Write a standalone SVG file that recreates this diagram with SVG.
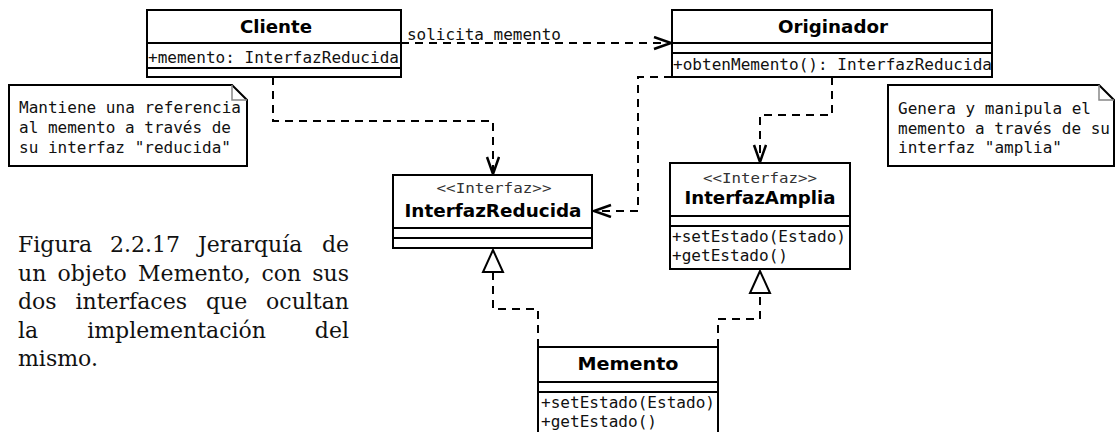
<svg xmlns="http://www.w3.org/2000/svg" width="1115" height="432" viewBox="0 0 1115 432">
<style>
.box{fill:#fff;stroke:#000;stroke-width:2}
.div{stroke:#000;stroke-width:2}
.title{font-family:"DejaVu Sans",sans-serif;font-weight:bold;font-size:17px;fill:#000;text-anchor:middle}
.mono{font-family:"DejaVu Sans Mono",monospace;font-size:15px;fill:#111}
.stereo{font-family:"DejaVu Sans Mono",monospace;font-size:14px;fill:#333;text-anchor:middle}
.note{fill:#fff;stroke:#000;stroke-width:2}
.fold{fill:none;stroke:#888;stroke-width:1.5}
.dash{fill:none;stroke:#000;stroke-width:2;stroke-dasharray:8,6}
.cap{font-family:"DejaVu Serif",serif;font-size:22px;fill:#111}
</style>
<defs>
<marker id="open" markerUnits="userSpaceOnUse" markerWidth="24" markerHeight="16" refX="18" refY="7" orient="auto" viewBox="0 0 24 16">
<path d="M1,1 L18,7 L1,13" fill="none" stroke="#000" stroke-width="2.5"/>
</marker>
<marker id="tri" markerUnits="userSpaceOnUse" markerWidth="26" markerHeight="26" refX="24" refY="12" orient="auto" viewBox="0 0 26 24">
<path d="M24,12 L2,2 L2,22 Z" fill="#fff" stroke="#000" stroke-width="2"/>
</marker>
</defs>

<g id="connectors">
<path class="dash" d="M401,43 H671" marker-end="url(#open)"/>
<text class="mono" x="407" y="40" textLength="154" lengthAdjust="spacingAndGlyphs">solicita memento</text>
<path class="dash" d="M273,77 V121 H493 V174" marker-end="url(#open)"/>
<path class="dash" d="M672,77 H638 V211 H594" marker-end="url(#open)"/>
<path class="dash" d="M832,77 V115 H760 V162" marker-end="url(#open)"/>
<path class="dash" d="M538,347 V309 H493 V250" marker-end="url(#tri)"/>
<path class="dash" d="M718,347 V319 H760 V271" marker-end="url(#tri)"/>
</g>

<g id="Cliente">
<rect class="box" x="147" y="10" width="254" height="67"/>
<line class="div" x1="147" y1="43" x2="401" y2="43"/>
<line class="div" x1="147" y1="68" x2="401" y2="68"/>
<text class="title" x="276" y="33" textLength="72" lengthAdjust="spacingAndGlyphs">Cliente</text>
<text class="mono" x="148" y="63" textLength="251" lengthAdjust="spacingAndGlyphs">+memento: InterfazReducida</text>
</g>

<g id="Originador">
<rect class="box" x="672" y="10" width="320" height="67"/>
<line class="div" x1="672" y1="43" x2="992" y2="43"/>
<line class="div" x1="672" y1="53" x2="992" y2="53"/>
<text class="title" x="833" y="33" textLength="110" lengthAdjust="spacingAndGlyphs">Originador</text>
<text class="mono" x="673" y="70" textLength="319" lengthAdjust="spacingAndGlyphs">+obtenMemento(): InterfazReducida</text>
</g>

<g id="NotaCliente">
<path class="note" d="M9,85 H232 L247,100 V166 H9 Z"/>
<path class="fold" d="M232,85 V100 H247"/>
<text class="mono" x="19" y="113" textLength="222" lengthAdjust="spacingAndGlyphs">Mantiene una referencia</text>
<text class="mono" x="19" y="133" textLength="212" lengthAdjust="spacingAndGlyphs">al memento a través de</text>
<text class="mono" x="19" y="153" textLength="212" lengthAdjust="spacingAndGlyphs">su interfaz "reducida"</text>
</g>

<g id="NotaOriginador">
<path class="note" d="M888,85 H1099 L1114,100 V166 H888 Z"/>
<path class="fold" d="M1099,85 V100 H1114"/>
<text class="mono" x="898" y="114" textLength="193" lengthAdjust="spacingAndGlyphs">Genera y manipula el</text>
<text class="mono" x="898" y="134" textLength="212" lengthAdjust="spacingAndGlyphs">memento a través de su</text>
<text class="mono" x="898" y="153" textLength="164" lengthAdjust="spacingAndGlyphs">interfaz "amplia"</text>
</g>

<g id="InterfazReducida">
<rect class="box" x="393" y="175" width="199" height="73"/>
<line class="div" x1="393" y1="228" x2="592" y2="228"/>
<line class="div" x1="393" y1="238" x2="592" y2="238"/>
<text class="stereo" x="494" y="193" textLength="115" lengthAdjust="spacingAndGlyphs">&lt;&lt;Interfaz&gt;&gt;</text>
<text class="title" x="493" y="217" textLength="177" lengthAdjust="spacingAndGlyphs">InterfazReducida</text>
</g>

<g id="InterfazAmplia">
<rect class="box" x="670" y="163" width="180" height="106"/>
<line class="div" x1="670" y1="216" x2="850" y2="216"/>
<line class="div" x1="670" y1="226" x2="850" y2="226"/>
<text class="stereo" x="760" y="183" textLength="114" lengthAdjust="spacingAndGlyphs">&lt;&lt;Interfaz&gt;&gt;</text>
<text class="title" x="760" y="204" textLength="151" lengthAdjust="spacingAndGlyphs">InterfazAmplia</text>
<text class="mono" x="672" y="242" textLength="174" lengthAdjust="spacingAndGlyphs">+setEstado(Estado)</text>
<text class="mono" x="672" y="261" textLength="116" lengthAdjust="spacingAndGlyphs">+getEstado()</text>
</g>

<g id="Memento">
<rect class="box" x="538" y="347" width="180" height="100"/>
<line class="div" x1="538" y1="382" x2="718" y2="382"/>
<line class="div" x1="538" y1="392" x2="718" y2="392"/>
<text class="title" x="628" y="370" textLength="101" lengthAdjust="spacingAndGlyphs">Memento</text>
<text class="mono" x="541" y="408" textLength="174" lengthAdjust="spacingAndGlyphs">+setEstado(Estado)</text>
<text class="mono" x="541" y="427" textLength="116" lengthAdjust="spacingAndGlyphs">+getEstado()</text>
</g>

<g id="caption" class="cap">
<text x="18" y="252">Figura</text>
<text x="110" y="252">2.2.17</text>
<text x="198" y="252">Jerarquía</text>
<text x="349" y="252" text-anchor="end">de</text>
<text x="18" y="280.5">un</text>
<text x="57.6" y="280.5">objeto</text>
<text x="138.1" y="280.5">Memento,</text>
<text x="261.4" y="280.5">con</text>
<text x="349" y="280.5" text-anchor="end">sus</text>
<text x="18" y="309">dos</text>
<text x="75.5" y="309">interfaces</text>
<text x="205.9" y="309">que</text>
<text x="349" y="309" text-anchor="end">ocultan</text>
<text x="18" y="337.5">la</text>
<text x="87.2" y="337.5">implementación</text>
<text x="349" y="337.5" text-anchor="end">del</text>
<text x="18" y="366">mismo.</text>
</g>
</svg>
